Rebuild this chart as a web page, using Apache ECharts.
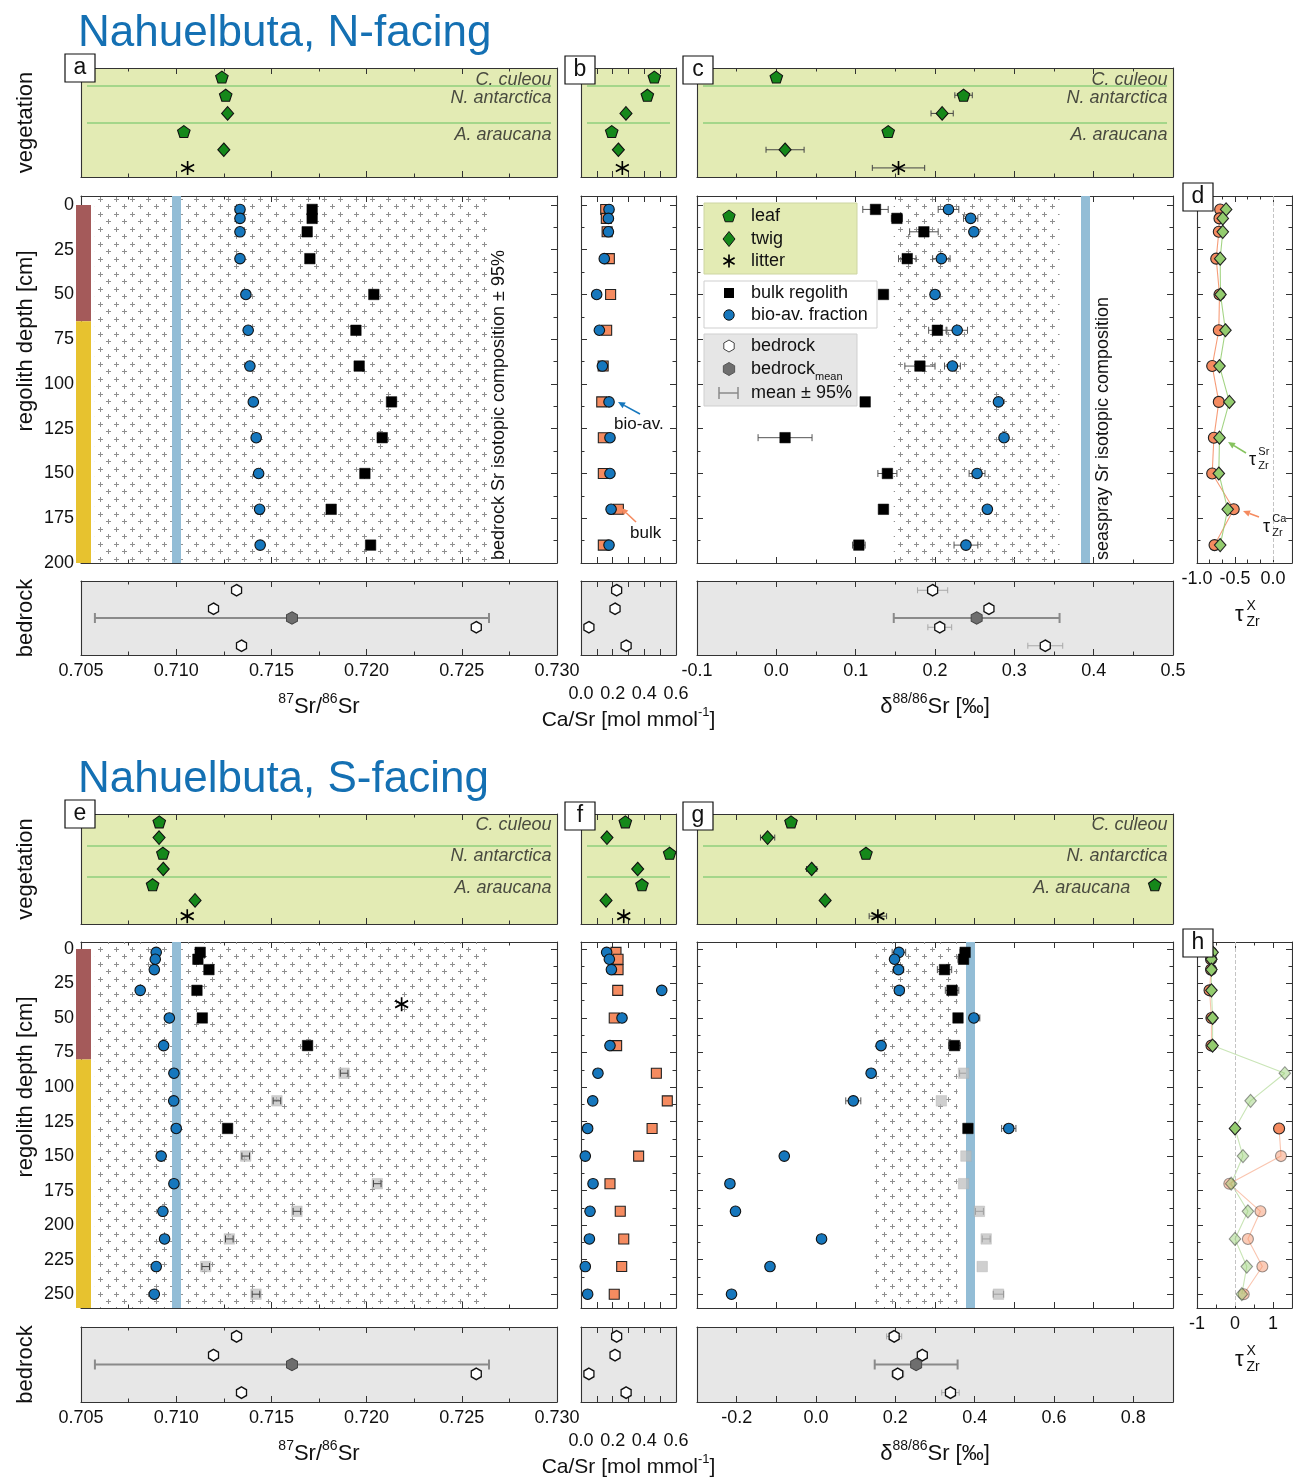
<!DOCTYPE html>
<html>
<head>
<meta charset="utf-8">
<title>Nahuelbuta – Sr isotopes in vegetation, regolith and bedrock</title>
<script src="https://cdn.jsdelivr.net/npm/echarts@6.0.0/dist/echarts.min.js"></script>
<style>
  html, body { margin: 0; padding: 0; background: #ffffff; }
  #chart { width: 1293px; height: 1478px; }
</style>
</head>
<body>
<div id="chart"></div>
<script>
// ================= DATA =================
// ---- N-facing slope: vegetation (rows listed top to bottom) ----
const N_VEG_SPECIES = ['C. culeou', 'N. antarctica', 'N. antarctica', 'A. araucana', 'A. araucana', null];
const N_VEG_TISSUE  = ['leaf', 'leaf', 'twig', 'leaf', 'twig', 'litter'];
const N_VEG_SR87    = [0.7124, 0.7126, 0.7127, 0.7104, 0.7125, 0.7106];
const N_VEG_CASR    = [0.463, 0.419, 0.284, 0.194, 0.236, 0.261];
const N_VEG_D88     = [0.000, 0.236, 0.209, 0.141, 0.011, 0.154];
const N_VEG_D88_ERR = [0.000, 0.011, 0.014, 0.000, 0.024, 0.033];

// ---- N-facing slope: regolith profile ----
const N_DEPTH          = [2.5, 7.5, 15, 30, 50, 70, 90, 110, 130, 150, 170, 190];
const N_HORIZON_BOUNDS = [0, 65, 200];
const N_BULK_SR87  = [0.71714, 0.71714, 0.71688, 0.71702, 0.72038, 0.71944, 0.71961, 0.72131, 0.72082, 0.71991, 0.71814, 0.72021];
const N_BIO_SR87   = [0.71335, 0.71335, 0.71335, 0.71335, 0.71366, 0.71378, 0.71387, 0.71405, 0.71420, 0.71433, 0.71438, 0.71441];
const N_BULK_CASR  = [0.156, 0.160, 0.165, 0.179, 0.187, 0.162, 0.140, 0.131, 0.141, 0.141, 0.236, 0.141];
const N_BIO_CASR   = [0.177, 0.173, 0.173, 0.147, 0.099, 0.116, 0.135, 0.177, 0.183, 0.183, 0.190, 0.177];
const N_BULK_D88     = [0.125, 0.152, 0.186, 0.165, 0.135, 0.203, 0.181, 0.112, 0.011, 0.140, 0.135, 0.104];
const N_BULK_D88_ERR = [0.016, 0.007, 0.018, 0.011, 0.000, 0.011, 0.019, 0.000, 0.034, 0.012, 0.000, 0.008];
const N_BIO_D88      = [0.217, 0.245, 0.249, 0.208, 0.200, 0.228, 0.222, 0.280, 0.287, 0.253, 0.266, 0.239];
const N_BIO_D88_ERR  = [0.013, 0.009, 0.000, 0.011, 0.000, 0.013, 0.010, 0.005, 0.000, 0.010, 0.000, 0.015];
const N_TAU_CA = [-0.695, -0.704, -0.713, -0.747, -0.704, -0.713, -0.800, -0.713, -0.778, -0.800, -0.517, -0.769];
const N_TAU_SR = [-0.617, -0.661, -0.661, -0.695, -0.691, -0.626, -0.704, -0.574, -0.704, -0.713, -0.596, -0.695];

// ---- S-facing slope: vegetation ----
const S_VEG_SPECIES = ['C. culeou', 'C. culeou', 'N. antarctica', 'N. antarctica', 'A. araucana', 'A. araucana', null];
const S_VEG_TISSUE  = ['leaf', 'twig', 'leaf', 'twig', 'leaf', 'twig', 'litter'];
const S_VEG_SR87    = [0.70911, 0.70910, 0.70930, 0.70932, 0.70876, 0.71099, 0.71058];
const S_VEG_CASR    = [0.280, 0.164, 0.560, 0.358, 0.385, 0.158, 0.270];
const S_VEG_D88     = [-0.063, -0.122, 0.126, -0.011, 0.854, 0.023, 0.156];
const S_VEG_D88_ERR = [0.013, 0.018, 0.000, 0.013, 0.000, 0.000, 0.022];

// ---- S-facing slope: regolith profile ----
const S_DEPTH          = [2.5, 7.5, 15, 30, 50, 70, 90, 110, 130, 150, 170, 190, 210, 230, 250];
const S_HORIZON_BOUNDS = [0, 80, 260];
const S_BULK_UNCERTAIN = [0, 0, 0, 0, 0, 0, 1, 1, 0, 1, 1, 1, 1, 1, 1];
const S_BULK_SR87     = [0.71126, 0.71114, 0.71172, 0.71109, 0.71137, 0.71690, 0.71882, 0.71529, 0.71270, 0.71365, 0.72056, 0.71634, 0.71279, 0.71155, 0.71419];
const S_BULK_SR87_ERR = [0.0002, 0.0002, 0.0002, 0.0002, 0.0002, 0.0002, 0.0002, 0.0002, 0.0002, 0.0002, 0.0002, 0.0002, 0.0002, 0.0002, 0.0002];
const S_BIO_SR87      = [0.70895, 0.70890, 0.70885, 0.70811, 0.70964, 0.70934, 0.70988, 0.70987, 0.71000, 0.70921, 0.70988, 0.70930, 0.70939, 0.70895, 0.70885];
const S_SOIL_LITTER_DEPTH = [40];
const S_SOIL_LITTER_SR87  = [0.72184];
const S_BULK_CASR = [0.221, 0.234, 0.234, 0.232, 0.210, 0.225, 0.476, 0.545, 0.449, 0.364, 0.183, 0.248, 0.270, 0.257, 0.210];
const S_BIO_CASR  = [0.162, 0.179, 0.192, 0.510, 0.259, 0.183, 0.107, 0.074, 0.042, 0.027, 0.076, 0.057, 0.053, 0.027, 0.042];
const S_BULK_D88     = [0.376, 0.372, 0.324, 0.343, 0.358, 0.349, 0.372, 0.316, 0.383, 0.378, 0.372, 0.412, 0.429, 0.419, 0.460];
const S_BULK_D88_ERR = [0.013, 0.014, 0.018, 0.017, 0.010, 0.015, 0.010, 0.000, 0.000, 0.000, 0.000, 0.010, 0.010, 0.000, 0.013];
const S_BIO_D88      = [0.209, 0.198, 0.208, 0.210, 0.398, 0.164, 0.139, 0.094, 0.486, -0.080, -0.217, -0.203, 0.014, -0.116, -0.213];
const S_BIO_D88_ERR  = [0.017, 0.008, 0.013, 0.012, 0.015, 0.000, 0.000, 0.019, 0.018, 0.000, 0.011, 0.000, 0.000, 0.000, 0.000];
const S_TAU_CA = [-0.62, -0.63, -0.63, -0.67, -0.62, -0.62, null, null, 1.16, 1.21, -0.15, 0.67, 0.34, 0.72, 0.23];
const S_TAU_SR = [-0.59, -0.62, -0.62, -0.62, -0.59, -0.59, 1.31, 0.41, 0.00, 0.21, -0.10, 0.34, 0.00, 0.31, 0.18];

// ---- Bedrock (shared by both slopes) ----
const BED_SR87    = [0.71317, 0.71196, 0.72576, 0.71343];
const BED_CASR    = [0.225, 0.215, 0.050, 0.285];
const BED_D88     = [0.197, 0.268, 0.206, 0.339];
const BED_D88_ERR = [0.019, 0.004, 0.015, 0.022];
const BED_SR87_CI95 = 0.01035;
const BED_D88_CI95  = 0.1045;

// ---- Seaspray reference values ----
const SEASPRAY_SR87 = 0.7099;
const SEASPRAY_D88  = 0.393;

// ================= STYLE / LAYOUT =================
const FONT = '"Liberation Sans", "DejaVu Sans", Arial, sans-serif';
const AXIS = '#333333';
const COLOR = {
  leaf: '#15881a', blue: '#1677bd', orange: '#f58b60', tauSr: '#93cc6e',
  horizonA: '#a45a5a', horizonB: '#e7c22f', band: '#93bdd6',
  veg: '#e3ebb4', bed: '#e7e7e7', split: '#8fcf7d', title: '#1470b3'
};
const COL = {
  a: { left: 81, width: 476 },
  b: { left: 581, width: 95 },
  c: { left: 697, width: 476 },
  d: { left: 1197, width: 95 }
};

const SYM = {
  pentagon: 'path://M0,-1L0.951,-0.309L0.588,0.809L-0.588,0.809L-0.951,-0.309Z',
  hexagon: 'path://M0,-1L0.866,-0.5L0.866,0.5L0,1L-0.866,0.5L-0.866,-0.5Z',
  asterisk: 'path://M0,-1L0,1M-0.866,-0.5L0.866,0.5M-0.866,0.5L0.866,-0.5'
};
const solid = s => Object.assign({ opacity: 1 }, s);
const MK = {
  leaf:   { symbol: SYM.pentagon, size: [12.5, 12], style: solid({ color: COLOR.leaf, borderColor: '#111', borderWidth: 1.1 }) },
  twig:   { symbol: 'diamond', size: [12, 13.5], style: solid({ color: COLOR.leaf, borderColor: '#111', borderWidth: 1.1 }) },
  litter: { symbol: SYM.asterisk, size: [13, 14], style: solid({ color: 'rgba(0,0,0,0)', borderColor: '#000', borderWidth: 1.7 }) },
  bulk:   { symbol: 'rect', size: 10.5, style: solid({ color: '#000', borderColor: '#000', borderWidth: 0.5 }) },
  bulkUncertain: { symbol: 'rect', size: 10.5, style: { color: '#bdbdbd', borderColor: '#b0b0b0', borderWidth: 0.5, opacity: 0.72 } },
  bio:    { symbol: 'circle', size: 10.5, style: solid({ color: COLOR.blue, borderColor: '#111', borderWidth: 1.1 }) },
  casr:   { symbol: 'rect', size: 10, style: solid({ color: COLOR.orange, borderColor: '#222', borderWidth: 1.1 }) },
  bed:    { symbol: SYM.hexagon, size: [10, 11.5], style: solid({ color: '#fff', borderColor: '#111', borderWidth: 1.4 }) },
  bedMean:{ symbol: SYM.hexagon, size: [11, 12.5], style: solid({ color: '#6e6e6e', borderColor: '#444', borderWidth: 1 }) },
  tauCa:  { symbol: 'circle', size: 11, style: solid({ color: COLOR.orange, borderColor: '#222', borderWidth: 1.1 }) },
  tauSr:  { symbol: 'diamond', size: [11.5, 13], style: solid({ color: COLOR.tauSr, borderColor: '#222', borderWidth: 1.1 }) }
};

const seq = (a, b, s) => { const o = []; const n = Math.round((b - a) / s); for (let i = 0; i <= n; i++) o.push(+(a + i * s).toFixed(6)); return o; };
const f1 = v => (Math.abs(v) < 1e-9 ? 0 : v).toFixed(1);

// axis specifications
const SR87_AX = { min: 0.705, max: 0.730, major: seq(0.705, 0.730, 0.005), minor: seq(0.7075, 0.7275, 0.005), labels: seq(0.705, 0.730, 0.005), fmt: v => v.toFixed(3) };
const CASR_AX = { min: 0, max: 0.6, major: seq(0, 0.6, 0.1), labels: [0, 0.2, 0.4, 0.6], fmt: f1, margin: 30 };
const D88_AX_N = { min: -0.1, max: 0.5, major: seq(-0.1, 0.5, 0.1), minor: seq(-0.05, 0.45, 0.1), labels: seq(-0.1, 0.5, 0.1), fmt: f1 };
const D88_AX_S = { min: -0.3, max: 0.9, major: seq(-0.3, 0.9, 0.1), labels: seq(-0.2, 0.8, 0.2), fmt: f1 };
const TAU_AX_N = { min: -1, max: 0.25, major: [-1, -0.5, 0], minor: [-5 / 6, -2 / 3, -1 / 3, -1 / 6], labels: [-1, -0.5, 0], fmt: f1 };
const TAU_AX_S = { min: -1, max: 1.5, major: [-1, 0, 1], minor: [-0.5, 0.5], labels: [-1, 0, 1], fmt: v => String(Math.round(v)) };
const DEPTH_AX_N = { min: -5, max: 200, inverse: true, major: seq(0, 200, 25), minor: seq(12.5, 187.5, 25), labels: seq(0, 200, 25), fmt: v => String(v) };
const DEPTH_AX_S = { min: -5, max: 260, inverse: true, major: seq(0, 250, 25), minor: seq(12.5, 237.5, 25), labels: seq(0, 250, 25), fmt: v => String(v) };

// "+" hatch used for the bedrock 95% range
const PLUS = (() => {
  const c = document.createElement('canvas'); c.width = 16; c.height = 15;
  const g = c.getContext('2d'); g.strokeStyle = '#8f8f8f'; g.lineWidth = 1;
  const cross = (x, y) => { g.beginPath(); g.moveTo(x - 2.5, y); g.lineTo(x + 2.5, y); g.moveTo(x, y - 2.5); g.lineTo(x, y + 2.5); g.stroke(); };
  cross(4.5, 4.5); cross(12.5, 11.5);
  return c;
})();

// ================= BUILDERS =================
const grids = [], xAxes = [], yAxes = [], series = [], graphics = [];

function axisDef(gi, pos, spec, showLabels, minor) {
  const ticks = minor ? spec.minor : spec.major;
  const a = {
    type: 'value', gridIndex: gi, position: pos,
    min: spec.min, max: spec.max, inverse: !!spec.inverse,
    axisLine: { show: !minor, onZero: false, lineStyle: { color: AXIS, width: 1.1 } },
    axisTick: { show: !!(ticks && ticks.length), inside: true, length: minor ? 3.5 : 6, lineStyle: { color: AXIS, width: 1 } },
    axisLabel: { show: false },
    splitLine: { show: false }, splitArea: { show: false },
    minorTick: { show: false }, minorSplitLine: { show: false }
  };
  if (ticks && ticks.length) a.axisTick.customValues = ticks;
  if (showLabels) {
    a.axisLabel = { show: true, customValues: spec.labels, formatter: spec.fmt,
      margin: spec.margin == null ? 7 : spec.margin, fontSize: 18, fontFamily: FONT, color: '#111' };
  }
  return a;
}

function addGrid(col, row, o) {
  const gi = grids.length;
  grids.push({ left: col.left, top: row.top, width: col.width, height: row.height,
    show: !!o.bg, backgroundColor: o.bg || 'transparent', borderWidth: 0,
    containLabel: false, outerBoundsMode: 'none' });
  const xi = xAxes.length;
  ['bottom', 'top'].forEach((pos, k) => {
    xAxes.push(axisDef(gi, pos, o.x, k === 0 && o.xLabels, false));
    if (o.x.minor) xAxes.push(axisDef(gi, pos, o.x, false, true));
  });
  const yi = yAxes.length;
  ['left', 'right'].forEach((pos, k) => {
    yAxes.push(axisDef(gi, pos, o.y, k === 0 && o.yLabels, false));
    if (o.y.minor) yAxes.push(axisDef(gi, pos, o.y, false, true));
  });
  return { xi, yi, col, row, x: o.x, y: o.y };
}

function pts(xs, ys, keep) {
  const out = [];
  xs.forEach((x, i) => { if (x == null) return; if (keep && !keep(i)) return; out.push([x, ys[i]]); });
  return out;
}

function addScatter(g, data, mk, z, extra) {
  if (!data.length) return;
  series.push(Object.assign({
    type: 'scatter', xAxisIndex: g.xi, yAxisIndex: g.yi, data,
    symbol: mk.symbol, symbolSize: mk.size, itemStyle: mk.style,
    z: z == null ? 5 : z, silent: true, animation: false, clip: false
  }, extra || {}));
}

function addErr(g, xs, ys, errs, color, width, cap, z) {
  const data = [];
  xs.forEach((x, i) => { if (x != null && errs[i]) data.push([x, ys[i], errs[i]]); });
  if (!data.length) return;
  series.push({
    type: 'custom', xAxisIndex: g.xi, yAxisIndex: g.yi, data, z: z == null ? 4 : z,
    silent: true, animation: false, clip: false,
    renderItem: (p, api) => {
      const x = api.value(0), y = api.value(1), e = api.value(2);
      const a = api.coord([x - e, y]), b = api.coord([x + e, y]);
      const st = { stroke: color, lineWidth: width };
      return { type: 'group', children: [
        { type: 'line', shape: { x1: a[0], y1: a[1], x2: b[0], y2: b[1] }, style: st },
        { type: 'line', shape: { x1: a[0], y1: a[1] - cap, x2: a[0], y2: a[1] + cap }, style: st },
        { type: 'line', shape: { x1: b[0], y1: b[1] - cap, x2: b[0], y2: b[1] + cap }, style: st }
      ] };
    }
  });
}

function addHatch(g, lo, hi) {
  series.push({ type: 'scatter', xAxisIndex: g.xi, yAxisIndex: g.yi, data: [], z: 1, silent: true, animation: false,
    markArea: { silent: true, animation: false, itemStyle: { color: { image: PLUS, repeat: 'repeat' } },
      data: [[{ xAxis: lo }, { xAxis: hi }]] } });
}

function addVLine(g, x, color, width, type, z) {
  series.push({ type: 'scatter', xAxisIndex: g.xi, yAxisIndex: g.yi, data: [], z: z || 2, silent: true, animation: false,
    markLine: { silent: true, animation: false, symbol: ['none', 'none'], label: { show: false },
      lineStyle: { color, width, type, opacity: 1 }, data: [{ xAxis: x }] } });
}

function addHorizons(g, bounds) {
  const cols = [COLOR.horizonA, COLOR.horizonB];
  const data = [];
  for (let i = 0; i < bounds.length - 1; i++) data.push([bounds[i], bounds[i + 1]]);
  series.push({
    type: 'custom', xAxisIndex: g.xi, yAxisIndex: g.yi, data, z: 8, silent: true, animation: false, clip: false,
    renderItem: (p, api) => {
      const cs = p.coordSys;
      const y0 = api.coord([g.x.min, api.value(0)])[1];
      const y1 = api.coord([g.x.min, api.value(1)])[1];
      return { type: 'rect', shape: { x: cs.x - 5, y: y0, width: 15, height: y1 - y0 }, style: { fill: cols[p.dataIndex] } };
    }
  });
}

function addVeg(g, V, xs, errs, withNames) {
  const rows = V.tissue.map((_, i) => i);
  if (errs) addErr(g, xs, rows, errs, '#444', 1, 3, 4);
  ['leaf', 'twig', 'litter'].forEach(t => addScatter(g, pts(xs, rows, i => V.tissue[i] === t), MK[t], 5));
  // species group separators (slightly inset from the frame) and names;
  // a name steps aside when a marker sits at the right edge
  const span = g.x.max - g.x.min;
  const inset = 6 / g.col.width * span;
  const splits = [], names = [];
  V.species.forEach((s, i) => {
    if (s && s !== V.species[i - 1]) {
      const crowded = xs[i] > g.x.max - 0.1 * span;
      names.push({ value: [crowded ? xs[i] : g.x.max, i], name: s, label: { distance: crowded ? 24 : 5 } });
    }
    if (i > 0 && s && V.species[i - 1] && s !== V.species[i - 1]) {
      splits.push([{ coord: [g.x.min + inset, i - 0.5] }, { coord: [g.x.max - inset, i - 0.5] }]);
    }
  });
  series.push({
    type: 'scatter', xAxisIndex: g.xi, yAxisIndex: g.yi, z: 3, silent: true, animation: false, clip: false,
    data: withNames ? names : [], symbolSize: 1, itemStyle: { color: 'rgba(0,0,0,0)' },
    label: { show: true, position: 'left', distance: 5, offset: [0, 3], formatter: '{b}', fontStyle: 'italic',
      fontSize: 18, fontFamily: FONT, color: '#222' },
    markLine: { silent: true, animation: false, symbol: ['none', 'none'], label: { show: false },
      lineStyle: { color: COLOR.split, width: 1.5, type: 'solid', opacity: 1 }, data: splits }
  });
}

function addBedrock(g, xs, errs, ci) {
  const rows = xs.map((_, i) => i);
  const mid = (xs.length - 1) / 2;
  const mean = xs.reduce((s, v) => s + v, 0) / xs.length;
  if (ci) addErr(g, [mean], [mid], [ci], '#8a8a8a', 2, 5, 3);
  if (errs) addErr(g, xs, rows, errs, '#a8a8a8', 1, 3, 4);
  addScatter(g, pts(xs, rows), MK.bed, 5);
  if (ci) addScatter(g, [[mean, mid]], MK.bedMean, 6);
  return mean;
}

// ---- graphic helpers ----
function txt(x, y, text, style, el) {
  graphics.push(Object.assign({ type: 'text', x, y, z: 50, silent: true,
    style: Object.assign({ text, fontFamily: FONT, fontSize: 18, fill: '#111',
      align: 'left', verticalAlign: 'middle', textAlign: 'left', textVerticalAlign: 'middle' }, style || {}) }, el || {}));
}
function richTxt(x, y, text, base, align) {
  txt(x, y, text, {
    align, textAlign: align,
    rich: {
      n: { fontSize: base, fontFamily: FONT, fill: '#111', lineHeight: base + 8, verticalAlign: 'middle' },
      s: { fontSize: Math.round(base * 0.62), fontFamily: FONT, fill: '#111', lineHeight: Math.round(base * 0.62) + 2, verticalAlign: 'top' },
      b: { fontSize: Math.round(base * 0.62), fontFamily: FONT, fill: '#111', lineHeight: Math.round(base * 0.62) + 2, verticalAlign: 'bottom' }
    }
  });
}
function tauLabel(x, y, sup, sub, size) {
  txt(x, y, 'τ', { fontSize: size });
  txt(x + size * 0.52, y - size * 0.42, sup, { fontSize: Math.round(size * 0.62) });
  txt(x + size * 0.52, y + size * 0.32, sub, { fontSize: Math.round(size * 0.62) });
}
function letterBox(x, y, ch) {
  graphics.push({ type: 'rect', x: 0, y: 0, z: 60, silent: true, shape: { x, y, width: 30, height: 28 },
    style: { fill: '#fff', stroke: '#111', lineWidth: 1.2 } });
  txt(x + 15, y + 14, ch, { fontSize: 23, align: 'center', textAlign: 'center' }, { z: 61 });
}
function arrow(x1, y1, x2, y2, color) {
  const a = Math.atan2(y2 - y1, x2 - x1), L = 7, W = 3.2;
  const bx = x2 - L * Math.cos(a), by = y2 - L * Math.sin(a);
  graphics.push({ type: 'line', z: 55, silent: true, shape: { x1, y1, x2: bx, y2: by }, style: { stroke: color, lineWidth: 1.6 } });
  graphics.push({ type: 'polygon', z: 55, silent: true,
    shape: { points: [[x2, y2], [bx + W * Math.sin(a), by - W * Math.cos(a)], [bx - W * Math.sin(a), by + W * Math.cos(a)]] },
    style: { fill: color } });
}
function regPoly(cx, cy, r, n) {
  const p = []; for (let k = 0; k < n; k++) { const a = 2 * Math.PI * k / n; p.push([cx + r * Math.sin(a), cy - r * Math.cos(a)]); } return p;
}
function legend(ox, oy) {
  const G = (o) => graphics.push(Object.assign({ z: 40, silent: true }, o));
  const ix = ox + 32, tx = ox + 54;
  // vegetation box
  G({ type: 'rect', shape: { x: ox + 7, y: oy + 7, width: 153, height: 71 }, style: { fill: COLOR.veg, stroke: '#cdd5a2', lineWidth: 1 } });
  G({ type: 'polygon', z: 41, shape: { points: regPoly(ix, oy + 20.5, 6.5, 5) }, style: { fill: COLOR.leaf, stroke: '#111', lineWidth: 1 } });
  G({ type: 'polygon', z: 41, shape: { points: [[ix, oy + 35.5], [ix + 6, oy + 43], [ix, oy + 50.5], [ix - 6, oy + 43]] }, style: { fill: COLOR.leaf, stroke: '#111', lineWidth: 1 } });
  [[0, -6.5, 0, 6.5], [-5.6, -3.2, 5.6, 3.2], [-5.6, 3.2, 5.6, -3.2]].forEach(s =>
    G({ type: 'line', z: 41, shape: { x1: ix + s[0], y1: oy + 65 + s[1], x2: ix + s[2], y2: oy + 65 + s[3] }, style: { stroke: '#000', lineWidth: 1.7 } }));
  txt(tx, oy + 20, 'leaf', {}, { z: 42 }); txt(tx, oy + 43, 'twig', {}, { z: 42 }); txt(tx, oy + 65, 'litter', {}, { z: 42 });
  // regolith box
  G({ type: 'rect', shape: { x: ox + 7, y: oy + 85, width: 173, height: 47 }, style: { fill: '#fff', stroke: '#cfcfcf', lineWidth: 1 } });
  G({ type: 'rect', z: 41, shape: { x: ix - 5, y: oy + 92, width: 10, height: 10 }, style: { fill: '#000' } });
  G({ type: 'circle', z: 41, shape: { cx: ix, cy: oy + 119, r: 5.2 }, style: { fill: COLOR.blue, stroke: '#111', lineWidth: 1 } });
  txt(tx, oy + 97, 'bulk regolith', {}, { z: 42 }); txt(tx, oy + 119, 'bio-av. fraction', {}, { z: 42 });
  // bedrock box
  G({ type: 'rect', shape: { x: ox + 7, y: oy + 138, width: 153, height: 72 }, style: { fill: '#e6e6e6', stroke: '#cfcfcf', lineWidth: 1 } });
  G({ type: 'polygon', z: 41, shape: { points: regPoly(ix, oy + 150, 6, 6) }, style: { fill: '#fff', stroke: '#444', lineWidth: 1 } });
  G({ type: 'polygon', z: 41, shape: { points: regPoly(ix, oy + 173, 6.5, 6) }, style: { fill: '#6e6e6e', stroke: '#555', lineWidth: 1 } });
  const ey = oy + 197;
  G({ type: 'line', z: 41, shape: { x1: ix - 10, y1: ey, x2: ix + 9, y2: ey }, style: { stroke: '#8a8a8a', lineWidth: 1.5 } });
  G({ type: 'line', z: 41, shape: { x1: ix - 10, y1: ey - 6, x2: ix - 10, y2: ey + 6 }, style: { stroke: '#8a8a8a', lineWidth: 1.5 } });
  G({ type: 'line', z: 41, shape: { x1: ix + 9, y1: ey - 6, x2: ix + 9, y2: ey + 6 }, style: { stroke: '#8a8a8a', lineWidth: 1.5 } });
  txt(tx, oy + 150, 'bedrock', {}, { z: 42 });
  richTxt(tx, oy + 173, '{n|bedrock}{b|mean}', 18, 'left');
  txt(tx, ey, 'mean ± 95%', {}, { z: 42 });
}

// ================= SECTIONS =================
const SECTIONS = [
  {
    title: 'Nahuelbuta, N-facing', letters: ['a', 'b', 'c', 'd'],
    rows: { veg: { top: 68, height: 109 }, reg: { top: 196, height: 367 }, bed: { top: 581, height: 74 } },
    depthAx: DEPTH_AX_N, d88Ax: D88_AX_N, tauAx: TAU_AX_N, horizons: N_HORIZON_BOUNDS,
    veg: { species: N_VEG_SPECIES, tissue: N_VEG_TISSUE, sr87: N_VEG_SR87, casr: N_VEG_CASR, d88: N_VEG_D88, d88err: N_VEG_D88_ERR },
    depth: N_DEPTH,
    reg: { bulkSr87: N_BULK_SR87, bioSr87: N_BIO_SR87, bulkCasr: N_BULK_CASR, bioCasr: N_BIO_CASR,
      bulkD88: N_BULK_D88, bulkD88err: N_BULK_D88_ERR, bioD88: N_BIO_D88, bioD88err: N_BIO_D88_ERR,
      tauCa: N_TAU_CA, tauSr: N_TAU_SR, uncertain: N_DEPTH.map(() => 0) },
    notes: true
  },
  {
    title: 'Nahuelbuta, S-facing', letters: ['e', 'f', 'g', 'h'],
    rows: { veg: { top: 814, height: 110 }, reg: { top: 942, height: 366 }, bed: { top: 1327, height: 75 } },
    depthAx: DEPTH_AX_S, d88Ax: D88_AX_S, tauAx: TAU_AX_S, horizons: S_HORIZON_BOUNDS,
    veg: { species: S_VEG_SPECIES, tissue: S_VEG_TISSUE, sr87: S_VEG_SR87, casr: S_VEG_CASR, d88: S_VEG_D88, d88err: S_VEG_D88_ERR },
    depth: S_DEPTH,
    reg: { bulkSr87: S_BULK_SR87, bulkSr87err: S_BULK_SR87_ERR, bioSr87: S_BIO_SR87, bulkCasr: S_BULK_CASR, bioCasr: S_BIO_CASR,
      bulkD88: S_BULK_D88, bulkD88err: S_BULK_D88_ERR, bioD88: S_BIO_D88, bioD88err: S_BIO_D88_ERR,
      tauCa: S_TAU_CA, tauSr: S_TAU_SR, uncertain: S_BULK_UNCERTAIN,
      litterDepth: S_SOIL_LITTER_DEPTH, litterSr87: S_SOIL_LITTER_SR87 },
    notes: false
  }
];

function buildSection(S) {
  const R = S.rows, V = S.veg, G = S.reg, D = S.depth;
  const vegY = { min: -0.5, max: V.tissue.length - 0.5, inverse: true };
  const bedY = { min: -0.5, max: BED_SR87.length - 0.5, inverse: true };
  const sure = i => !G.uncertain[i], unsure = i => !!G.uncertain[i];

  // ----- column 1: 87Sr/86Sr -----
  const aV = addGrid(COL.a, R.veg, { bg: COLOR.veg, x: SR87_AX, y: vegY });
  const aR = addGrid(COL.a, R.reg, { x: SR87_AX, y: S.depthAx, yLabels: true });
  const aB = addGrid(COL.a, R.bed, { bg: COLOR.bed, x: SR87_AX, y: bedY, xLabels: true });
  addVeg(aV, V, V.sr87, null, true);
  const bedSrMean = BED_SR87.reduce((s, v) => s + v, 0) / BED_SR87.length;
  addHatch(aR, bedSrMean - BED_SR87_CI95, bedSrMean + BED_SR87_CI95);
  addVLine(aR, SEASPRAY_SR87, COLOR.band, 9, 'solid', 2);
  addHorizons(aR, S.horizons);
  if (G.bulkSr87err) addErr(aR, G.bulkSr87.map((v, i) => unsure(i) ? v : null), D, G.bulkSr87err, '#444', 1, 3.5, 6);
  addScatter(aR, pts(G.bulkSr87, D, unsure), MK.bulkUncertain, 5);
  addScatter(aR, pts(G.bulkSr87, D, sure), MK.bulk, 5);
  addScatter(aR, pts(G.bioSr87, D), MK.bio, 6);
  if (G.litterDepth) addScatter(aR, pts(G.litterSr87, G.litterDepth), MK.litter, 6);
  addBedrock(aB, BED_SR87, null, BED_SR87_CI95);

  // ----- column 2: Ca/Sr -----
  const bV = addGrid(COL.b, R.veg, { bg: COLOR.veg, x: CASR_AX, y: vegY });
  const bR = addGrid(COL.b, R.reg, { x: CASR_AX, y: S.depthAx });
  const bB = addGrid(COL.b, R.bed, { bg: COLOR.bed, x: CASR_AX, y: bedY, xLabels: true });
  addVeg(bV, V, V.casr, null, false);
  addScatter(bR, pts(G.bulkCasr, D), MK.casr, 5);
  addScatter(bR, pts(G.bioCasr, D), MK.bio, 6);
  addBedrock(bB, BED_CASR, null, null);

  // ----- column 3: d88/86Sr -----
  const cV = addGrid(COL.c, R.veg, { bg: COLOR.veg, x: S.d88Ax, y: vegY });
  const cR = addGrid(COL.c, R.reg, { x: S.d88Ax, y: S.depthAx });
  const cB = addGrid(COL.c, R.bed, { bg: COLOR.bed, x: S.d88Ax, y: bedY, xLabels: true });
  addVeg(cV, V, V.d88, V.d88err, true);
  const bedDMean = BED_D88.reduce((s, v) => s + v, 0) / BED_D88.length;
  addHatch(cR, bedDMean - BED_D88_CI95, bedDMean + BED_D88_CI95);
  addVLine(cR, SEASPRAY_D88, COLOR.band, 9, 'solid', 2);
  addErr(cR, G.bulkD88, D, G.bulkD88err, '#555', 1, 3.5, 4);
  addErr(cR, G.bioD88, D, G.bioD88err, '#555', 1, 3.5, 4);
  addScatter(cR, pts(G.bulkD88, D, unsure), MK.bulkUncertain, 5);
  addScatter(cR, pts(G.bulkD88, D, sure), MK.bulk, 5);
  addScatter(cR, pts(G.bioD88, D), MK.bio, 6);
  addBedrock(cB, BED_D88, BED_D88_ERR, BED_D88_CI95);

  // ----- column 4: tau (Zr-normalised mass transfer) -----
  const dR = addGrid(COL.d, R.reg, { x: S.tauAx, y: S.depthAx, xLabels: true });
  addVLine(dR, 0, '#c4c4c4', 1, 'dashed', 1);
  const lineOpacity = S.notes ? 0.85 : 0.5;
  [[G.tauCa, COLOR.orange], [G.tauSr, COLOR.tauSr]].forEach(([vals, col]) => {
    series.push({ type: 'line', xAxisIndex: dR.xi, yAxisIndex: dR.yi, z: 3, silent: true, animation: false,
      showSymbol: false, symbol: 'none', connectNulls: false, clip: false,
      lineStyle: { color: col, width: 1.1, opacity: lineOpacity },
      data: D.map((d, i) => [vals[i] == null ? '-' : vals[i], d]) });
  });
  const faded = mk => ({ symbol: mk.symbol, size: mk.size, style: Object.assign({}, mk.style, { opacity: 0.45 }) });
  addScatter(dR, pts(G.tauCa, D, sure), MK.tauCa, 5);
  addScatter(dR, pts(G.tauCa, D, unsure), faded(MK.tauCa), 5);
  addScatter(dR, pts(G.tauSr, D, sure), MK.tauSr, 6);
  addScatter(dR, pts(G.tauSr, D, unsure), faded(MK.tauSr), 6);

  // ----- text furniture -----
  txt(78, R.veg.top - 34, S.title, { fontSize: 44, fill: COLOR.title });
  const yl = (cy, t) => txt(26, cy, t, { fontSize: 22, align: 'center', textAlign: 'center' }, { rotation: Math.PI / 2 });
  yl(R.veg.top + R.veg.height / 2, 'vegetation');
  yl(R.reg.top + 145, 'regolith depth [cm]');
  yl(R.bed.top + R.bed.height / 2, 'bedrock');

  const bedBottom = R.bed.top + R.bed.height;
  richTxt(COL.a.left + COL.a.width / 2, bedBottom + 52, '{s|87}{n|Sr/}{s|86}{n|Sr}', 22, 'center');
  richTxt(COL.b.left + COL.b.width / 2, bedBottom + 65, '{n|Ca/Sr [mol mmol}{s|-1}{n|]}', 21, 'center');
  richTxt(COL.c.left + COL.c.width / 2, bedBottom + 52, '{n|δ}{s|88/86}{n|Sr [‰]}', 22, 'center');
  const regBottom = R.reg.top + R.reg.height;
  tauLabel(COL.d.left + 38, regBottom + 52, 'X', 'Zr', 22);

  letterBox(COL.a.left - 16, R.veg.top - 14, S.letters[0]);
  letterBox(COL.b.left - 16, R.veg.top - 12, S.letters[1]);
  letterBox(COL.c.left - 14, R.veg.top - 12, S.letters[2]);
  letterBox(COL.d.left - 14, R.reg.top - 13, S.letters[3]);

  if (S.notes) {
    const rt = R.reg.top;
    txt(COL.a.left + COL.a.width - 58, regBottom - 3, 'bedrock Sr isotopic composition ± 95%', { fontSize: 18 }, { rotation: Math.PI / 2 });
    txt(COL.c.left + 406, regBottom - 3, 'seaspray Sr isotopic composition', { fontSize: 18 }, { rotation: Math.PI / 2 });
    legend(COL.c.left, rt);
    // Ca/Sr annotations
    arrow(COL.b.left + 59, rt + 218, COL.b.left + 37, rt + 206, COLOR.blue);
    txt(COL.b.left + 33, rt + 228, 'bio-av.', { fontSize: 17 });
    arrow(COL.b.left + 55, rt + 326, COL.b.left + 40, rt + 312, COLOR.orange);
    txt(COL.b.left + 49, rt + 337, 'bulk', { fontSize: 17 });
    // tau annotations
    arrow(COL.d.left + 49, rt + 257, COL.d.left + 31, rt + 246, '#86c35e');
    tauLabel(COL.d.left + 52, rt + 264, 'Sr', 'Zr', 18);
    arrow(COL.d.left + 62, rt + 321, COL.d.left + 46, rt + 315, COLOR.orange);
    tauLabel(COL.d.left + 66, rt + 331, 'Ca', 'Zr', 18);
  }
}

SECTIONS.forEach(buildSection);

const chart = echarts.init(document.getElementById('chart'), null, { renderer: 'canvas' });
chart.setOption({
  animation: false,
  backgroundColor: '#ffffff',
  textStyle: { fontFamily: FONT },
  grid: grids,
  xAxis: xAxes,
  yAxis: yAxes,
  series: series,
  graphic: { elements: graphics }
});
</script>
</body>
</html>
